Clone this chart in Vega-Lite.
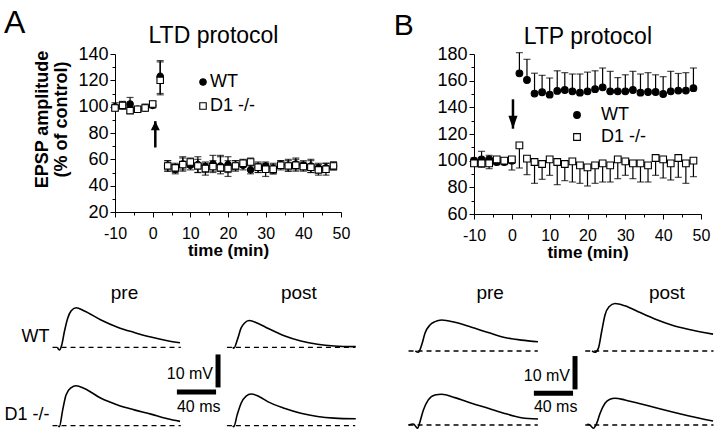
{
  "$schema": "https://vega.github.io/schema/vega-lite/v6.json",
  "padding": {"left": 3, "top": 6, "right": 0, "bottom": 0},
  "background": "white",
  "spacing": 24,
  "config": {
    "font": "Liberation Sans",
    "view": {"stroke": null},
    "axis": {"domainColor": "black", "tickColor": "black", "labelColor": "black", "titleColor": "black", "grid": false, "labelFont": "Liberation Sans", "titleFont": "Liberation Sans", "domainWidth": 1, "tickWidth": 1, "labelOverlap": false, "labelFlush": false, "labelBound": false, "tickCount": 30},
    "text": {"font": "Liberation Sans", "color": "black"},
    "header": {"labelFont": "Liberation Sans", "labelColor": "black"},
    "legend": {"labelFont": "Liberation Sans", "labelColor": "black"}
  },
  "datasets": {
    "ltd": [
      {"t": -10, "g": "WT", "m": 100, "lo": 97, "hi": 103},
      {"t": -8, "g": "WT", "m": 101, "lo": 98, "hi": 104},
      {"t": -6, "g": "WT", "m": 102, "lo": 98, "hi": 107},
      {"t": -4, "g": "WT", "m": 98, "lo": 96, "hi": 100},
      {"t": -2, "g": "WT", "m": 99, "lo": 97, "hi": 102},
      {"t": 0, "g": "WT", "m": 101, "lo": 99, "hi": 104},
      {"t": 2, "g": "WT", "m": 123, "lo": 110, "hi": 135},
      {"t": 4, "g": "WT", "m": 55.5, "lo": 51, "hi": 59},
      {"t": 6, "g": "WT", "m": 52.5, "lo": 49, "hi": 56},
      {"t": 8, "g": "WT", "m": 56.5, "lo": 52, "hi": 62},
      {"t": 10, "g": "WT", "m": 55.5, "lo": 52, "hi": 59},
      {"t": 12, "g": "WT", "m": 56, "lo": 50, "hi": 62},
      {"t": 14, "g": "WT", "m": 54.5, "lo": 50, "hi": 58},
      {"t": 16, "g": "WT", "m": 56.5, "lo": 51, "hi": 63},
      {"t": 18, "g": "WT", "m": 55, "lo": 51, "hi": 62},
      {"t": 20, "g": "WT", "m": 56, "lo": 50, "hi": 62},
      {"t": 22, "g": "WT", "m": 55.5, "lo": 52, "hi": 59},
      {"t": 24, "g": "WT", "m": 55.5, "lo": 52, "hi": 59},
      {"t": 26, "g": "WT", "m": 52, "lo": 49, "hi": 56},
      {"t": 28, "g": "WT", "m": 54, "lo": 50, "hi": 58},
      {"t": 30, "g": "WT", "m": 55, "lo": 51, "hi": 58},
      {"t": 32, "g": "WT", "m": 53, "lo": 49, "hi": 57},
      {"t": 34, "g": "WT", "m": 56, "lo": 53, "hi": 59},
      {"t": 36, "g": "WT", "m": 55.5, "lo": 51, "hi": 60},
      {"t": 38, "g": "WT", "m": 56.5, "lo": 52, "hi": 61},
      {"t": 40, "g": "WT", "m": 55.5, "lo": 52, "hi": 59},
      {"t": 42, "g": "WT", "m": 55, "lo": 50, "hi": 60},
      {"t": 44, "g": "WT", "m": 53.5, "lo": 50, "hi": 57},
      {"t": 46, "g": "WT", "m": 53.5, "lo": 50, "hi": 57},
      {"t": 48, "g": "WT", "m": 55, "lo": 52, "hi": 58},
      {"t": -10, "g": "D1 -/-", "m": 99, "lo": 97, "hi": 101},
      {"t": -8, "g": "D1 -/-", "m": 101, "lo": 99, "hi": 103},
      {"t": -6, "g": "D1 -/-", "m": 97, "lo": 95, "hi": 100},
      {"t": -4, "g": "D1 -/-", "m": 98, "lo": 96, "hi": 100},
      {"t": -2, "g": "D1 -/-", "m": 99, "lo": 97, "hi": 101},
      {"t": 0, "g": "D1 -/-", "m": 102, "lo": 100, "hi": 104},
      {"t": 2, "g": "D1 -/-", "m": 120, "lo": 109, "hi": 134},
      {"t": 4, "g": "D1 -/-", "m": 55, "lo": 51, "hi": 59},
      {"t": 6, "g": "D1 -/-", "m": 53.5, "lo": 50, "hi": 57},
      {"t": 8, "g": "D1 -/-", "m": 56, "lo": 51, "hi": 61},
      {"t": 10, "g": "D1 -/-", "m": 58, "lo": 54, "hi": 61},
      {"t": 12, "g": "D1 -/-", "m": 55, "lo": 50, "hi": 60},
      {"t": 14, "g": "D1 -/-", "m": 53, "lo": 48, "hi": 57},
      {"t": 16, "g": "D1 -/-", "m": 54.5, "lo": 50, "hi": 59},
      {"t": 18, "g": "D1 -/-", "m": 53.5, "lo": 49, "hi": 63},
      {"t": 20, "g": "D1 -/-", "m": 53, "lo": 47, "hi": 59},
      {"t": 22, "g": "D1 -/-", "m": 55, "lo": 51, "hi": 59},
      {"t": 24, "g": "D1 -/-", "m": 57, "lo": 54, "hi": 60},
      {"t": 26, "g": "D1 -/-", "m": 58, "lo": 55, "hi": 61},
      {"t": 28, "g": "D1 -/-", "m": 54, "lo": 50, "hi": 57},
      {"t": 30, "g": "D1 -/-", "m": 52.5, "lo": 47, "hi": 57},
      {"t": 32, "g": "D1 -/-", "m": 52.5, "lo": 49, "hi": 56},
      {"t": 34, "g": "D1 -/-", "m": 55.5, "lo": 52, "hi": 59},
      {"t": 36, "g": "D1 -/-", "m": 55, "lo": 51, "hi": 59},
      {"t": 38, "g": "D1 -/-", "m": 55.5, "lo": 51, "hi": 60},
      {"t": 40, "g": "D1 -/-", "m": 54.5, "lo": 51, "hi": 58},
      {"t": 42, "g": "D1 -/-", "m": 54, "lo": 50, "hi": 59},
      {"t": 44, "g": "D1 -/-", "m": 52, "lo": 48, "hi": 56},
      {"t": 46, "g": "D1 -/-", "m": 52.5, "lo": 48, "hi": 57},
      {"t": 48, "g": "D1 -/-", "m": 55, "lo": 52, "hi": 58}
    ],
    "ltp": [
      {"t": -10, "g": "WT", "m": 100, "lo": 98, "hi": 102},
      {"t": -8, "g": "WT", "m": 101, "lo": 97, "hi": 107},
      {"t": -6, "g": "WT", "m": 101, "lo": 98, "hi": 104},
      {"t": -4, "g": "WT", "m": 99, "lo": 97, "hi": 102},
      {"t": -2, "g": "WT", "m": 99, "lo": 97, "hi": 101},
      {"t": 0, "g": "WT", "m": 100, "lo": 98, "hi": 103},
      {"t": 2, "g": "WT", "m": 165.5, "lo": 165.5, "hi": 181},
      {"t": 4, "g": "WT", "m": 160.5, "lo": 160.5, "hi": 176},
      {"t": 6, "g": "WT", "m": 150.3, "lo": 150.3, "hi": 165.6},
      {"t": 8, "g": "WT", "m": 151.3, "lo": 151.3, "hi": 164},
      {"t": 10, "g": "WT", "m": 149.5, "lo": 149.5, "hi": 162},
      {"t": 12, "g": "WT", "m": 152.3, "lo": 152.3, "hi": 167.4},
      {"t": 14, "g": "WT", "m": 153, "lo": 153, "hi": 166},
      {"t": 16, "g": "WT", "m": 152, "lo": 152, "hi": 165},
      {"t": 18, "g": "WT", "m": 151, "lo": 151, "hi": 165},
      {"t": 20, "g": "WT", "m": 152, "lo": 152, "hi": 166.4},
      {"t": 22, "g": "WT", "m": 153.6, "lo": 153.6, "hi": 167.4},
      {"t": 24, "g": "WT", "m": 155, "lo": 155, "hi": 169.5},
      {"t": 26, "g": "WT", "m": 152, "lo": 152, "hi": 167},
      {"t": 28, "g": "WT", "m": 152, "lo": 152, "hi": 162.3},
      {"t": 30, "g": "WT", "m": 152, "lo": 152, "hi": 164.4},
      {"t": 32, "g": "WT", "m": 153, "lo": 153, "hi": 167},
      {"t": 34, "g": "WT", "m": 151, "lo": 151, "hi": 165},
      {"t": 36, "g": "WT", "m": 151.5, "lo": 151.5, "hi": 166},
      {"t": 38, "g": "WT", "m": 151.5, "lo": 151.5, "hi": 164.4},
      {"t": 40, "g": "WT", "m": 150, "lo": 150, "hi": 163},
      {"t": 42, "g": "WT", "m": 152, "lo": 152, "hi": 167},
      {"t": 44, "g": "WT", "m": 152.6, "lo": 152.6, "hi": 165.4},
      {"t": 46, "g": "WT", "m": 152.6, "lo": 152.6, "hi": 166},
      {"t": 48, "g": "WT", "m": 154.4, "lo": 154.4, "hi": 169.5},
      {"t": -10, "g": "D1 -/-", "m": 98, "lo": 96, "hi": 101},
      {"t": -8, "g": "D1 -/-", "m": 98, "lo": 95, "hi": 102},
      {"t": -6, "g": "D1 -/-", "m": 98, "lo": 94, "hi": 102},
      {"t": -4, "g": "D1 -/-", "m": 101, "lo": 99, "hi": 103},
      {"t": -2, "g": "D1 -/-", "m": 100, "lo": 98, "hi": 102},
      {"t": 0, "g": "D1 -/-", "m": 101, "lo": 93, "hi": 103},
      {"t": 2, "g": "D1 -/-", "m": 111.5, "lo": 94.5, "hi": 111.5},
      {"t": 4, "g": "D1 -/-", "m": 101.5, "lo": 89.5, "hi": 101.5},
      {"t": 6, "g": "D1 -/-", "m": 99, "lo": 83, "hi": 99},
      {"t": 8, "g": "D1 -/-", "m": 97.5, "lo": 86, "hi": 97.5},
      {"t": 10, "g": "D1 -/-", "m": 101, "lo": 89, "hi": 101},
      {"t": 12, "g": "D1 -/-", "m": 99, "lo": 82, "hi": 99},
      {"t": 14, "g": "D1 -/-", "m": 97.5, "lo": 85, "hi": 97.5},
      {"t": 16, "g": "D1 -/-", "m": 99.5, "lo": 84, "hi": 99.5},
      {"t": 18, "g": "D1 -/-", "m": 96.5, "lo": 83, "hi": 96.5},
      {"t": 20, "g": "D1 -/-", "m": 95, "lo": 81, "hi": 95},
      {"t": 22, "g": "D1 -/-", "m": 96.5, "lo": 83, "hi": 96.5},
      {"t": 24, "g": "D1 -/-", "m": 98, "lo": 84, "hi": 98},
      {"t": 26, "g": "D1 -/-", "m": 96.5, "lo": 84, "hi": 96.5},
      {"t": 28, "g": "D1 -/-", "m": 101, "lo": 86.5, "hi": 101},
      {"t": 30, "g": "D1 -/-", "m": 99.5, "lo": 89, "hi": 99.5},
      {"t": 32, "g": "D1 -/-", "m": 98, "lo": 86.5, "hi": 98},
      {"t": 34, "g": "D1 -/-", "m": 98, "lo": 84, "hi": 98},
      {"t": 36, "g": "D1 -/-", "m": 96.5, "lo": 84, "hi": 96.5},
      {"t": 38, "g": "D1 -/-", "m": 102, "lo": 89, "hi": 102},
      {"t": 40, "g": "D1 -/-", "m": 101, "lo": 87, "hi": 101},
      {"t": 42, "g": "D1 -/-", "m": 98, "lo": 85.5, "hi": 98},
      {"t": 44, "g": "D1 -/-", "m": 102, "lo": 87.5, "hi": 102},
      {"t": 46, "g": "D1 -/-", "m": 98, "lo": 83, "hi": 98},
      {"t": 48, "g": "D1 -/-", "m": 100, "lo": 88, "hi": 100}
    ],
    "trA": [
      {"geno": "WT", "cond": "pre", "kind": "rowlabel", "label": "WT"},
      {"geno": "D1 -/-", "cond": "pre", "kind": "rowlabel", "label": "D1 -/-"},
      {"geno": "WT", "cond": "pre", "kind": "base", "ms": -7, "ms2": 124, "mv": 0},
      {"geno": "WT", "cond": "post", "kind": "base", "ms": -7, "ms2": 124, "mv": 0},
      {"geno": "D1 -/-", "cond": "pre", "kind": "base", "ms": -7, "ms2": 124, "mv": 0},
      {"geno": "D1 -/-", "cond": "post", "kind": "base", "ms": -7, "ms2": 124, "mv": 0},
      {"geno": "WT", "cond": "pre", "kind": "trace", "ms": -2, "mv": 0},
      {"geno": "WT", "cond": "pre", "kind": "trace", "ms": 0, "mv": -0.8},
      {"geno": "WT", "cond": "pre", "kind": "trace", "ms": 2.4, "mv": 0.7},
      {"geno": "WT", "cond": "pre", "kind": "trace", "ms": 5.1, "mv": 4.7},
      {"geno": "WT", "cond": "pre", "kind": "trace", "ms": 8.5, "mv": 8.8},
      {"geno": "WT", "cond": "pre", "kind": "trace", "ms": 11.9, "mv": 11},
      {"geno": "WT", "cond": "pre", "kind": "trace", "ms": 17, "mv": 12},
      {"geno": "WT", "cond": "pre", "kind": "trace", "ms": 25.5, "mv": 11},
      {"geno": "WT", "cond": "pre", "kind": "trace", "ms": 42.5, "mv": 8.3},
      {"geno": "WT", "cond": "pre", "kind": "trace", "ms": 59.4, "mv": 6.1},
      {"geno": "WT", "cond": "pre", "kind": "trace", "ms": 76.4, "mv": 4.5},
      {"geno": "WT", "cond": "pre", "kind": "trace", "ms": 93.4, "mv": 3.1},
      {"geno": "WT", "cond": "pre", "kind": "trace", "ms": 110.4, "mv": 2.0},
      {"geno": "WT", "cond": "pre", "kind": "trace", "ms": 123.2, "mv": 1.4},
      {"geno": "WT", "cond": "post", "kind": "trace", "ms": -1, "mv": 0},
      {"geno": "WT", "cond": "post", "kind": "trace", "ms": 0, "mv": -0.3},
      {"geno": "WT", "cond": "post", "kind": "trace", "ms": 4.1, "mv": 2.7},
      {"geno": "WT", "cond": "post", "kind": "trace", "ms": 7.4, "mv": 5.8},
      {"geno": "WT", "cond": "post", "kind": "trace", "ms": 10.8, "mv": 7.3},
      {"geno": "WT", "cond": "post", "kind": "trace", "ms": 15.9, "mv": 8.1},
      {"geno": "WT", "cond": "post", "kind": "trace", "ms": 24.4, "mv": 7.3},
      {"geno": "WT", "cond": "post", "kind": "trace", "ms": 34.6, "mv": 5.8},
      {"geno": "WT", "cond": "post", "kind": "trace", "ms": 51.5, "mv": 3.5},
      {"geno": "WT", "cond": "post", "kind": "trace", "ms": 68.5, "mv": 1.9},
      {"geno": "WT", "cond": "post", "kind": "trace", "ms": 85.5, "mv": 0.9},
      {"geno": "WT", "cond": "post", "kind": "trace", "ms": 102.5, "mv": 0.4},
      {"geno": "WT", "cond": "post", "kind": "trace", "ms": 124.6, "mv": 0.2},
      {"geno": "D1 -/-", "cond": "pre", "kind": "trace", "ms": -1, "mv": 0},
      {"geno": "D1 -/-", "cond": "pre", "kind": "trace", "ms": 0, "mv": -0.3},
      {"geno": "D1 -/-", "cond": "pre", "kind": "trace", "ms": 3.4, "mv": 4.8},
      {"geno": "D1 -/-", "cond": "pre", "kind": "trace", "ms": 6.8, "mv": 9.3},
      {"geno": "D1 -/-", "cond": "pre", "kind": "trace", "ms": 11.9, "mv": 11.5},
      {"geno": "D1 -/-", "cond": "pre", "kind": "trace", "ms": 17, "mv": 12.1},
      {"geno": "D1 -/-", "cond": "pre", "kind": "trace", "ms": 25.5, "mv": 11.3},
      {"geno": "D1 -/-", "cond": "pre", "kind": "trace", "ms": 42.5, "mv": 8.3},
      {"geno": "D1 -/-", "cond": "pre", "kind": "trace", "ms": 59.4, "mv": 6.3},
      {"geno": "D1 -/-", "cond": "pre", "kind": "trace", "ms": 76.4, "mv": 4.8},
      {"geno": "D1 -/-", "cond": "pre", "kind": "trace", "ms": 93.4, "mv": 3.5},
      {"geno": "D1 -/-", "cond": "pre", "kind": "trace", "ms": 110.4, "mv": 2.1},
      {"geno": "D1 -/-", "cond": "pre", "kind": "trace", "ms": 123.2, "mv": 1.3},
      {"geno": "D1 -/-", "cond": "post", "kind": "trace", "ms": -1, "mv": 0},
      {"geno": "D1 -/-", "cond": "post", "kind": "trace", "ms": 0, "mv": -0.3},
      {"geno": "D1 -/-", "cond": "post", "kind": "trace", "ms": 3.4, "mv": 3.2},
      {"geno": "D1 -/-", "cond": "post", "kind": "trace", "ms": 7.5, "mv": 6.8},
      {"geno": "D1 -/-", "cond": "post", "kind": "trace", "ms": 12.6, "mv": 9.0},
      {"geno": "D1 -/-", "cond": "post", "kind": "trace", "ms": 17.7, "mv": 9.6},
      {"geno": "D1 -/-", "cond": "post", "kind": "trace", "ms": 26.1, "mv": 8.8},
      {"geno": "D1 -/-", "cond": "post", "kind": "trace", "ms": 34.6, "mv": 7.3},
      {"geno": "D1 -/-", "cond": "post", "kind": "trace", "ms": 51.5, "mv": 5.3},
      {"geno": "D1 -/-", "cond": "post", "kind": "trace", "ms": 68.5, "mv": 3.8},
      {"geno": "D1 -/-", "cond": "post", "kind": "trace", "ms": 85.5, "mv": 2.8},
      {"geno": "D1 -/-", "cond": "post", "kind": "trace", "ms": 102.5, "mv": 2.3},
      {"geno": "D1 -/-", "cond": "post", "kind": "trace", "ms": 124.6, "mv": 2.1},
      {"geno": "D1 -/-", "cond": "pre", "kind": "hbar", "ms": 120, "ms2": 160, "mv": 10.2, "label": "40 ms"},
      {"geno": "D1 -/-", "cond": "pre", "kind": "vbar", "ms": 162, "mv": 11.6, "mv2": 21.6, "label": "10 mV"}
    ],
    "trB": [
      {"geno": "WT", "cond": "pre", "kind": "base", "ms": -10, "ms2": 122, "mv": 0},
      {"geno": "WT", "cond": "post", "kind": "base", "ms": -10, "ms2": 121, "mv": 0},
      {"geno": "D1 -/-", "cond": "pre", "kind": "base", "ms": -10, "ms2": 122, "mv": 0},
      {"geno": "D1 -/-", "cond": "post", "kind": "base", "ms": -10, "ms2": 121, "mv": 0},
      {"geno": "WT", "cond": "pre", "kind": "trace", "ms": -3, "mv": 0},
      {"geno": "WT", "cond": "pre", "kind": "trace", "ms": 0, "mv": -0.4},
      {"geno": "WT", "cond": "pre", "kind": "trace", "ms": 3.4, "mv": 1.8},
      {"geno": "WT", "cond": "pre", "kind": "trace", "ms": 6.8, "mv": 5.4},
      {"geno": "WT", "cond": "pre", "kind": "trace", "ms": 11.9, "mv": 7.9},
      {"geno": "WT", "cond": "pre", "kind": "trace", "ms": 17, "mv": 8.9},
      {"geno": "WT", "cond": "pre", "kind": "trace", "ms": 23.8, "mv": 9.4},
      {"geno": "WT", "cond": "pre", "kind": "trace", "ms": 37.3, "mv": 8.7},
      {"geno": "WT", "cond": "pre", "kind": "trace", "ms": 54.3, "mv": 7.2},
      {"geno": "WT", "cond": "pre", "kind": "trace", "ms": 71.3, "mv": 5.6},
      {"geno": "WT", "cond": "pre", "kind": "trace", "ms": 88.2, "mv": 4.1},
      {"geno": "WT", "cond": "pre", "kind": "trace", "ms": 105.2, "mv": 3.3},
      {"geno": "WT", "cond": "pre", "kind": "trace", "ms": 122.2, "mv": 2.8},
      {"geno": "WT", "cond": "post", "kind": "trace", "ms": -3, "mv": 0},
      {"geno": "WT", "cond": "post", "kind": "trace", "ms": 0, "mv": -0.4},
      {"geno": "WT", "cond": "post", "kind": "trace", "ms": 3.4, "mv": 0.8},
      {"geno": "WT", "cond": "post", "kind": "trace", "ms": 6.8, "mv": 5.9},
      {"geno": "WT", "cond": "post", "kind": "trace", "ms": 10.2, "mv": 10.9},
      {"geno": "WT", "cond": "post", "kind": "trace", "ms": 14.3, "mv": 13.4},
      {"geno": "WT", "cond": "post", "kind": "trace", "ms": 20.4, "mv": 14.4},
      {"geno": "WT", "cond": "post", "kind": "trace", "ms": 30.5, "mv": 13.7},
      {"geno": "WT", "cond": "post", "kind": "trace", "ms": 44.1, "mv": 11.9},
      {"geno": "WT", "cond": "post", "kind": "trace", "ms": 61.1, "mv": 9.7},
      {"geno": "WT", "cond": "post", "kind": "trace", "ms": 78.1, "mv": 7.9},
      {"geno": "WT", "cond": "post", "kind": "trace", "ms": 95, "mv": 6.6},
      {"geno": "WT", "cond": "post", "kind": "trace", "ms": 120.5, "mv": 5.1},
      {"geno": "D1 -/-", "cond": "pre", "kind": "trace", "ms": -10, "mv": 0},
      {"geno": "D1 -/-", "cond": "pre", "kind": "trace", "ms": -5.1, "mv": 0.3},
      {"geno": "D1 -/-", "cond": "pre", "kind": "trace", "ms": -0.7, "mv": -1.0},
      {"geno": "D1 -/-", "cond": "pre", "kind": "trace", "ms": 1.7, "mv": 1.0},
      {"geno": "D1 -/-", "cond": "pre", "kind": "trace", "ms": 5.1, "mv": 4.5},
      {"geno": "D1 -/-", "cond": "pre", "kind": "trace", "ms": 10.2, "mv": 7.6},
      {"geno": "D1 -/-", "cond": "pre", "kind": "trace", "ms": 17, "mv": 9.1},
      {"geno": "D1 -/-", "cond": "pre", "kind": "trace", "ms": 23.8, "mv": 9.3},
      {"geno": "D1 -/-", "cond": "pre", "kind": "trace", "ms": 37.3, "mv": 8.3},
      {"geno": "D1 -/-", "cond": "pre", "kind": "trace", "ms": 54.3, "mv": 6.6},
      {"geno": "D1 -/-", "cond": "pre", "kind": "trace", "ms": 71.3, "mv": 5.1},
      {"geno": "D1 -/-", "cond": "pre", "kind": "trace", "ms": 88.2, "mv": 3.5},
      {"geno": "D1 -/-", "cond": "pre", "kind": "trace", "ms": 105.2, "mv": 2.2},
      {"geno": "D1 -/-", "cond": "pre", "kind": "trace", "ms": 122.2, "mv": 1.8},
      {"geno": "D1 -/-", "cond": "post", "kind": "trace", "ms": -8, "mv": 0.2},
      {"geno": "D1 -/-", "cond": "post", "kind": "trace", "ms": -5.1, "mv": 0},
      {"geno": "D1 -/-", "cond": "post", "kind": "trace", "ms": -1.7, "mv": -1.0},
      {"geno": "D1 -/-", "cond": "post", "kind": "trace", "ms": 1.7, "mv": 0.5},
      {"geno": "D1 -/-", "cond": "post", "kind": "trace", "ms": 5.1, "mv": 3.5},
      {"geno": "D1 -/-", "cond": "post", "kind": "trace", "ms": 10.2, "mv": 6.6},
      {"geno": "D1 -/-", "cond": "post", "kind": "trace", "ms": 15.3, "mv": 7.8},
      {"geno": "D1 -/-", "cond": "post", "kind": "trace", "ms": 20.4, "mv": 8.1},
      {"geno": "D1 -/-", "cond": "post", "kind": "trace", "ms": 30.5, "mv": 7.6},
      {"geno": "D1 -/-", "cond": "post", "kind": "trace", "ms": 44.1, "mv": 6.6},
      {"geno": "D1 -/-", "cond": "post", "kind": "trace", "ms": 61.1, "mv": 5.3},
      {"geno": "D1 -/-", "cond": "post", "kind": "trace", "ms": 78.1, "mv": 4.0},
      {"geno": "D1 -/-", "cond": "post", "kind": "trace", "ms": 95, "mv": 2.8},
      {"geno": "D1 -/-", "cond": "post", "kind": "trace", "ms": 120.5, "mv": 1.2},
      {"geno": "D1 -/-", "cond": "pre", "kind": "hbar", "ms": 118, "ms2": 158, "mv": 9.6, "label": "40 ms"},
      {"geno": "D1 -/-", "cond": "pre", "kind": "vbar", "ms": 160, "mv": 10.8, "mv2": 20.9, "label": "10 mV"}
    ]
  },
  "vconcat": [
    {
      "spacing": 43,
      "resolve": {"scale": {"shape": "independent", "fill": "independent", "stroke": "independent"}, "legend": {"shape": "independent", "fill": "independent", "stroke": "independent"}},
      "hconcat": [
        {
          "width": 226,
          "height": 158,
          "data": {"name": "ltd"},
          "layer": [
            {
              "mark": {"type": "rule", "color": "black", "strokeWidth": 1.2},
              "encoding": {
                "x": {"field": "t", "type": "quantitative", "scale": {"domain": [-10, 50], "nice": false, "zero": false},
                  "axis": {"values": [-10, -5, 0, 5, 10, 15, 20, 25, 30, 35, 40, 45, 50], "tickCount": 30, "labelOverlap": false, "labelExpr": "datum.value % 10 === 0 ? '' + datum.value : ''", "tickSize": {"condition": {"test": "datum.value % 10 === 0", "value": 5}, "value": 3}, "labelFontSize": 16, "labelPadding": 8, "title": "time (min)", "titleFontSize": 17, "titleFontWeight": "bold", "titlePadding": 1}},
                "y": {"field": "lo", "type": "quantitative", "scale": {"domain": [20, 140], "nice": false, "zero": false},
                  "axis": {"values": [20, 30, 40, 50, 60, 70, 80, 90, 100, 110, 120, 130, 140], "tickCount": 30, "labelOverlap": false, "labelExpr": "datum.value % 20 === 0 ? '' + datum.value : ''", "tickSize": {"condition": {"test": "datum.value % 20 === 0", "value": 5}, "value": 3}, "labelFontSize": 18, "labelPadding": 2, "title": ["EPSP amplitude", "(% of control)"], "titleFontSize": 18, "titleFontWeight": "bold", "titleLineHeight": 19, "titleAngle": -90, "titleBaseline": "bottom", "titleX": -64, "titleY": 65}},
                "y2": {"field": "hi"}
              }
            },
            {
              "transform": [{"filter": "datum.hi > datum.m + 0.5"}],
              "mark": {"type": "tick", "orient": "horizontal", "size": 7, "thickness": 1.2, "color": "black"},
              "encoding": {"x": {"field": "t", "type": "quantitative"}, "y": {"field": "hi", "type": "quantitative"}}
            },
            {
              "transform": [{"filter": "datum.lo < datum.m - 0.5"}],
              "mark": {"type": "tick", "orient": "horizontal", "size": 7, "thickness": 1.2, "color": "black"},
              "encoding": {"x": {"field": "t", "type": "quantitative"}, "y": {"field": "lo", "type": "quantitative"}}
            },
            {
              "mark": {"type": "point", "filled": true, "strokeWidth": 1.1, "size": 42, "opacity": 1},
              "encoding": {
                "x": {"field": "t", "type": "quantitative"},
                "y": {"field": "m", "type": "quantitative"},
                "shape": {"field": "g", "type": "nominal", "scale": {"domain": ["WT", "D1 -/-"], "range": ["circle", "square"]},
                  "legend": {"orient": "none", "legendX": 79, "legendY": 19, "title": null, "labelFontSize": 18, "symbolSize": 42, "symbolStrokeWidth": 1.1, "labelOffset": -2, "rowPadding": 6, "padding": 0}},
                "fill": {"field": "g", "type": "nominal", "scale": {"domain": ["WT", "D1 -/-"], "range": ["black", "white"]},
                  "legend": {"orient": "none", "legendX": 79, "legendY": 19, "title": null, "labelFontSize": 18, "symbolSize": 42, "symbolStrokeWidth": 1.1, "labelOffset": -2, "rowPadding": 6, "padding": 0}},
                "stroke": {"field": "g", "type": "nominal", "scale": {"domain": ["WT", "D1 -/-"], "range": ["black", "black"]},
                  "legend": {"orient": "none", "legendX": 79, "legendY": 19, "title": null, "labelFontSize": 18, "symbolSize": 42, "symbolStrokeWidth": 1.1, "labelOffset": -2, "rowPadding": 6, "padding": 0}}
              }
            },
            {
              "data": {"values": [{"t": 0.7, "from": 69, "to": 89}]},
              "mark": {"type": "rule", "color": "black", "strokeWidth": 2.5},
              "encoding": {"x": {"field": "t", "type": "quantitative"}, "y": {"field": "from", "type": "quantitative"}, "y2": {"field": "to"}}
            },
            {
              "data": {"values": [{"t": 0.7, "from": 69, "to": 89}]},
              "mark": {"type": "point", "shape": "M0,-1L1,1L-1,1Z", "size": 81, "filled": true, "color": "black", "opacity": 1, "yOffset": 4.5},
              "encoding": {"x": {"field": "t", "type": "quantitative"}, "y": {"field": "to", "type": "quantitative"}}
            },
            {
              "data": {"values": [{"label": "LTD protocol"}]},
              "mark": {"type": "text", "fontSize": 23, "align": "center", "baseline": "alphabetic"},
              "encoding": {"x": {"datum": 16.15}, "y": {"datum": 148.7}, "text": {"field": "label"}}
            },
            {
              "data": {"values": [{"letter": "A"}]},
              "mark": {"type": "text", "fontSize": 32, "align": "left", "baseline": "alphabetic"},
              "encoding": {"x": {"datum": -39.5}, "y": {"datum": 155.95}, "text": {"field": "letter"}}
            }
          ]
        },
        {
          "width": 227,
          "height": 160,
          "data": {"name": "ltp"},
          "layer": [
            {
              "mark": {"type": "rule", "color": "black", "strokeWidth": 1.2},
              "encoding": {
                "x": {"field": "t", "type": "quantitative", "scale": {"domain": [-10, 50], "nice": false, "zero": false},
                  "axis": {"values": [-10, -5, 0, 5, 10, 15, 20, 25, 30, 35, 40, 45, 50], "tickCount": 30, "labelOverlap": false, "labelExpr": "datum.value % 10 === 0 ? '' + datum.value : ''", "tickSize": {"condition": {"test": "datum.value % 10 === 0", "value": 5}, "value": 3}, "labelFontSize": 16, "labelPadding": 8, "title": "time (min)", "titleFontSize": 17, "titleFontWeight": "bold", "titlePadding": 1}},
                "y": {"field": "lo", "type": "quantitative", "scale": {"domain": [60, 180], "nice": false, "zero": false},
                  "axis": {"values": [60, 70, 80, 90, 100, 110, 120, 130, 140, 150, 160, 170, 180], "tickCount": 30, "labelOverlap": false, "labelExpr": "datum.value % 20 === 0 ? '' + datum.value : ''", "tickSize": {"condition": {"test": "datum.value % 20 === 0", "value": 5}, "value": 3}, "labelFontSize": 18, "labelPadding": 2, "title": null}},
                "y2": {"field": "hi"}
              }
            },
            {
              "transform": [{"filter": "datum.hi > datum.m + 0.5"}],
              "mark": {"type": "tick", "orient": "horizontal", "size": 7, "thickness": 1.2, "color": "black"},
              "encoding": {"x": {"field": "t", "type": "quantitative"}, "y": {"field": "hi", "type": "quantitative"}}
            },
            {
              "transform": [{"filter": "datum.lo < datum.m - 0.5"}],
              "mark": {"type": "tick", "orient": "horizontal", "size": 7, "thickness": 1.2, "color": "black"},
              "encoding": {"x": {"field": "t", "type": "quantitative"}, "y": {"field": "lo", "type": "quantitative"}}
            },
            {
              "mark": {"type": "point", "filled": true, "strokeWidth": 1.1, "size": 45, "opacity": 1},
              "encoding": {
                "x": {"field": "t", "type": "quantitative"},
                "y": {"field": "m", "type": "quantitative"},
                "shape": {"field": "g", "type": "nominal", "scale": {"domain": ["WT", "D1 -/-"], "range": ["circle", "square"]},
                  "legend": {"orient": "none", "legendX": 94, "legendY": 52, "title": null, "labelFontSize": 18, "symbolSize": 45, "symbolStrokeWidth": 1.1, "labelOffset": 15, "rowPadding": 4, "padding": 0}},
                "fill": {"field": "g", "type": "nominal", "scale": {"domain": ["WT", "D1 -/-"], "range": ["black", "white"]},
                  "legend": {"orient": "none", "legendX": 94, "legendY": 52, "title": null, "labelFontSize": 18, "symbolSize": 45, "symbolStrokeWidth": 1.1, "labelOffset": 15, "rowPadding": 4, "padding": 0}},
                "stroke": {"field": "g", "type": "nominal", "scale": {"domain": ["WT", "D1 -/-"], "range": ["black", "black"]},
                  "legend": {"orient": "none", "legendX": 94, "legendY": 52, "title": null, "labelFontSize": 18, "symbolSize": 45, "symbolStrokeWidth": 1.1, "labelOffset": 15, "rowPadding": 4, "padding": 0}}
              }
            },
            {
              "data": {"values": [{"t": 0.3, "from": 146, "to": 124}]},
              "mark": {"type": "rule", "color": "black", "strokeWidth": 2.5},
              "encoding": {"x": {"field": "t", "type": "quantitative"}, "y": {"field": "from", "type": "quantitative"}, "y2": {"field": "to"}}
            },
            {
              "data": {"values": [{"t": 0.3, "from": 146, "to": 124}]},
              "mark": {"type": "point", "shape": "M-0.7,-1L0.7,-1L0,1Z", "size": 169, "filled": true, "color": "black", "opacity": 1, "yOffset": -6.5},
              "encoding": {"x": {"field": "t", "type": "quantitative"}, "y": {"field": "to", "type": "quantitative"}}
            },
            {
              "data": {"values": [{"label": "LTP protocol"}]},
              "mark": {"type": "text", "fontSize": 23, "align": "center", "baseline": "alphabetic"},
              "encoding": {"x": {"datum": 20.1}, "y": {"datum": 187.7}, "text": {"field": "label"}}
            },
            {
              "data": {"values": [{"letter": "B"}]},
              "mark": {"type": "text", "fontSize": 30, "align": "left", "baseline": "alphabetic"},
              "encoding": {"x": {"datum": -31.2}, "y": {"datum": 194.3}, "text": {"field": "letter"}}
            }
          ]
        }
      ]
    },
    {
      "spacing": 44.7,
      "hconcat": [
        {
          "data": {"name": "trA"},
          "bounds": "flush",
          "facet": {
            "row": {"field": "geno", "type": "nominal", "sort": ["WT", "D1 -/-"], "title": null, "header": {"labels": false}},
            "column": {"field": "cond", "type": "nominal", "sort": ["pre", "post"], "title": null,
              "header": {"labelFontSize": 19, "labelPadding": 15}}
          },
          "spacing": {"row": 40.4, "column": 155.4},
          "spec": {
            "width": 19,
            "height": 38,
            "layer": [
              {
                "transform": [{"filter": "datum.kind === 'base'"}],
                "mark": {"type": "rule", "color": "black", "strokeWidth": 1.3, "strokeDash": [5, 4]},
                "encoding": {
                  "x": {"field": "ms", "type": "quantitative", "scale": {"domain": [56.8, 76.2], "nice": false, "zero": false}, "axis": null},
                  "x2": {"field": "ms2"},
                  "y": {"field": "mv", "type": "quantitative", "scale": {"domain": [-2.64, 8.88], "nice": false, "zero": false}, "axis": null}
                }
              },
              {
                "transform": [{"filter": "datum.kind === 'trace'"}],
                "mark": {"type": "line", "color": "black", "strokeWidth": 1.6, "interpolate": "monotone"},
                "encoding": {"x": {"field": "ms", "type": "quantitative"}, "y": {"field": "mv", "type": "quantitative"}}
              },
              {
                "transform": [{"filter": "datum.kind === 'hbar'"}],
                "mark": {"type": "rule", "color": "black", "strokeWidth": 5},
                "encoding": {"x": {"field": "ms", "type": "quantitative"}, "x2": {"field": "ms2"}, "y": {"field": "mv", "type": "quantitative"}}
              },
              {
                "transform": [{"filter": "datum.kind === 'vbar'"}],
                "mark": {"type": "rule", "color": "black", "strokeWidth": 5},
                "encoding": {"x": {"field": "ms", "type": "quantitative"}, "y": {"field": "mv", "type": "quantitative"}, "y2": {"field": "mv2"}}
              },
              {
                "transform": [{"filter": "datum.kind === 'hbar'"}],
                "mark": {"type": "text", "fontSize": 16, "align": "left", "baseline": "alphabetic", "dy": 20},
                "encoding": {"x": {"field": "ms", "type": "quantitative"}, "y": {"field": "mv", "type": "quantitative"}, "text": {"field": "label"}}
              },
              {
                "transform": [{"filter": "datum.kind === 'vbar'"}],
                "mark": {"type": "text", "fontSize": 16, "align": "right", "baseline": "alphabetic", "dx": -5, "dy": -8},
                "encoding": {"x": {"field": "ms", "type": "quantitative"}, "y": {"field": "mv", "type": "quantitative"}, "text": {"field": "label"}}
              },
              {
                "transform": [{"filter": "datum.kind === 'rowlabel'"}],
                "mark": {"type": "text", "fontSize": 18, "align": "right", "baseline": "middle"},
                "encoding": {"x": {"datum": -10}, "y": {"datum": 3.1}, "text": {"field": "label"}}
              }
            ]
          }
        },
        {
          "data": {"name": "trB"},
          "bounds": "flush",
          "facet": {
            "row": {"field": "geno", "type": "nominal", "sort": ["WT", "D1 -/-"], "title": null, "header": {"labels": false}},
            "column": {"field": "cond", "type": "nominal", "sort": ["pre", "post"], "title": null,
              "header": {"labelFontSize": 19, "labelPadding": 15}}
          },
          "spacing": {"row": 36, "column": 157.7},
          "spec": {
            "width": 19,
            "height": 38,
            "layer": [
              {
                "transform": [{"filter": "datum.kind === 'base'"}],
                "mark": {"type": "rule", "color": "black", "strokeWidth": 1.3, "strokeDash": [5, 4]},
                "encoding": {
                  "x": {"field": "ms", "type": "quantitative", "scale": {"domain": [63.7, 83.1], "nice": false, "zero": false}, "axis": null},
                  "x2": {"field": "ms2"},
                  "y": {"field": "mv", "type": "quantitative", "scale": {"domain": [-1.52, 10.0], "nice": false, "zero": false}, "axis": null}
                }
              },
              {
                "transform": [{"filter": "datum.kind === 'trace'"}],
                "mark": {"type": "line", "color": "black", "strokeWidth": 1.6, "interpolate": "monotone"},
                "encoding": {"x": {"field": "ms", "type": "quantitative"}, "y": {"field": "mv", "type": "quantitative"}}
              },
              {
                "transform": [{"filter": "datum.kind === 'hbar'"}],
                "mark": {"type": "rule", "color": "black", "strokeWidth": 5},
                "encoding": {"x": {"field": "ms", "type": "quantitative"}, "x2": {"field": "ms2"}, "y": {"field": "mv", "type": "quantitative"}}
              },
              {
                "transform": [{"filter": "datum.kind === 'vbar'"}],
                "mark": {"type": "rule", "color": "black", "strokeWidth": 5},
                "encoding": {"x": {"field": "ms", "type": "quantitative"}, "y": {"field": "mv", "type": "quantitative"}, "y2": {"field": "mv2"}}
              },
              {
                "transform": [{"filter": "datum.kind === 'hbar'"}],
                "mark": {"type": "text", "fontSize": 16, "align": "left", "baseline": "alphabetic", "dy": 19},
                "encoding": {"x": {"field": "ms", "type": "quantitative"}, "y": {"field": "mv", "type": "quantitative"}, "text": {"field": "label"}}
              },
              {
                "transform": [{"filter": "datum.kind === 'vbar'"}],
                "mark": {"type": "text", "fontSize": 16, "align": "right", "baseline": "alphabetic", "dx": -5, "dy": -8},
                "encoding": {"x": {"field": "ms", "type": "quantitative"}, "y": {"field": "mv", "type": "quantitative"}, "text": {"field": "label"}}
              }
            ]
          }
        }
      ]
    }
  ]
}
